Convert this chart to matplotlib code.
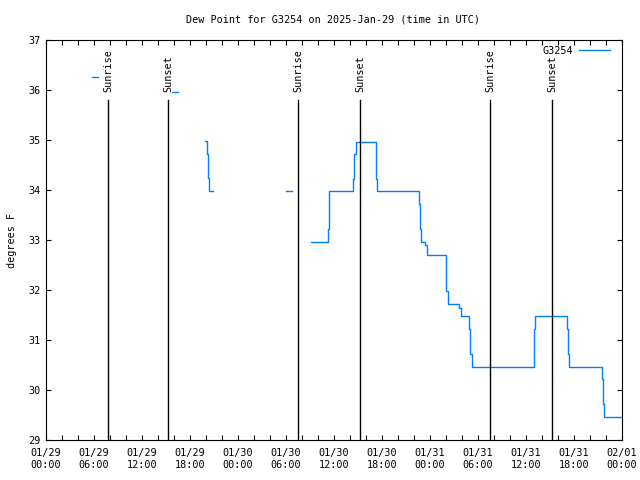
import numpy as np
import matplotlib
matplotlib.use("Agg")
import matplotlib.pyplot as plt

# hours since 2025-01-29 00:00 UTC, dew point in F
# pieces separated by gaps in the record
seg_hours = [
    [5.75, 6.5],
    [15.7, 16.46],
    [19.91, 20.12, 20.25, 20.41, 20.91],
    [30.0, 30.71],
    [33.125, 35.21, 35.33, 35.41, 38.41, 38.56, 38.69, 41.21, 41.31, 41.41,
     46.66, 46.79, 46.91, 47.41, 47.625, 49.96, 50.06, 50.19, 51.66, 51.875,
     52.91, 53.04, 53.19, 60.96, 61.06, 61.16, 65.125, 65.22, 65.35, 69.54,
     69.65, 69.78, 72.0],
]
seg_values = [
    [36.26, 36.26],
    [35.97, 35.97],
    [34.98, 34.72, 34.25, 33.98, 33.98],
    [33.98, 33.98],
    [32.97, 33.22, 33.74, 33.98, 34.23, 34.73, 34.97, 34.73, 34.23, 33.98,
     33.73, 33.22, 32.97, 32.90, 32.71, 32.47, 31.98, 31.73, 31.65, 31.48,
     31.23, 30.73, 30.47, 30.72, 31.22, 31.48, 31.22, 30.72, 30.47, 30.22,
     29.73, 29.47, 29.47],
]

sun_hours = [7.75, 15.25, 31.5, 39.25, 55.5, 63.25]
sun_labels = ["Sunrise", "Sunset", "Sunrise", "Sunset", "Sunrise", "Sunset"]

tick_hours = list(range(0, 73, 6))
tick_labels = ["01/29\n00:00", "01/29\n06:00", "01/29\n12:00", "01/29\n18:00",
               "01/30\n00:00", "01/30\n06:00", "01/30\n12:00", "01/30\n18:00",
               "01/31\n00:00", "01/31\n06:00", "01/31\n12:00", "01/31\n18:00",
               "02/01\n00:00"]

plt.rcParams['font.family'] = ['DejaVu Sans Mono']
plt.rcParams['font.size'] = 7.3

fig = plt.figure(figsize=(6.4, 4.8), dpi=100)
ax = fig.add_axes([46 / 640, 40 / 480, 576 / 640, 400 / 480])

blue = "#0080ff"
for i, (h, v) in enumerate(zip(seg_hours, seg_values)):
    ax.plot(h, v, drawstyle="steps-post", color=blue, lw=1.0,
            label="G3254" if i == 0 else None)

for h, lab in zip(sun_hours, sun_labels):
    ax.plot([h, h], [29, 35.8], color="black", lw=1.0)
    ax.text(h, 35.96, lab, rotation=90, ha="center", va="bottom")

ax.set_xlim(0, 72)
ax.set_ylim(29, 37)
ax.set_xticks(tick_hours)
ax.set_xticklabels(tick_labels)
ax.set_xticks(range(0, 73, 2), minor=True)
ax.set_yticks(range(29, 38))
ax.tick_params(which="both", direction="in", top=True, right=True,
               length=3.5, width=0.8, pad=4)
ax.tick_params(axis="x", which="major", pad=6)

ax.set_ylabel("degrees F", labelpad=8)
fig.text(0.52, 1 - 19 / 480, "Dew Point for G3254 on 2025-Jan-29 (time in UTC)",
         ha="center", va="center")

ax.legend(loc="upper right", bbox_to_anchor=(0.979, 0.986), frameon=False,
          markerfirst=False, handlelength=3.0, handletextpad=0.6,
          borderaxespad=0.0, borderpad=0.0)

fig.savefig("out.png", dpi=100)
